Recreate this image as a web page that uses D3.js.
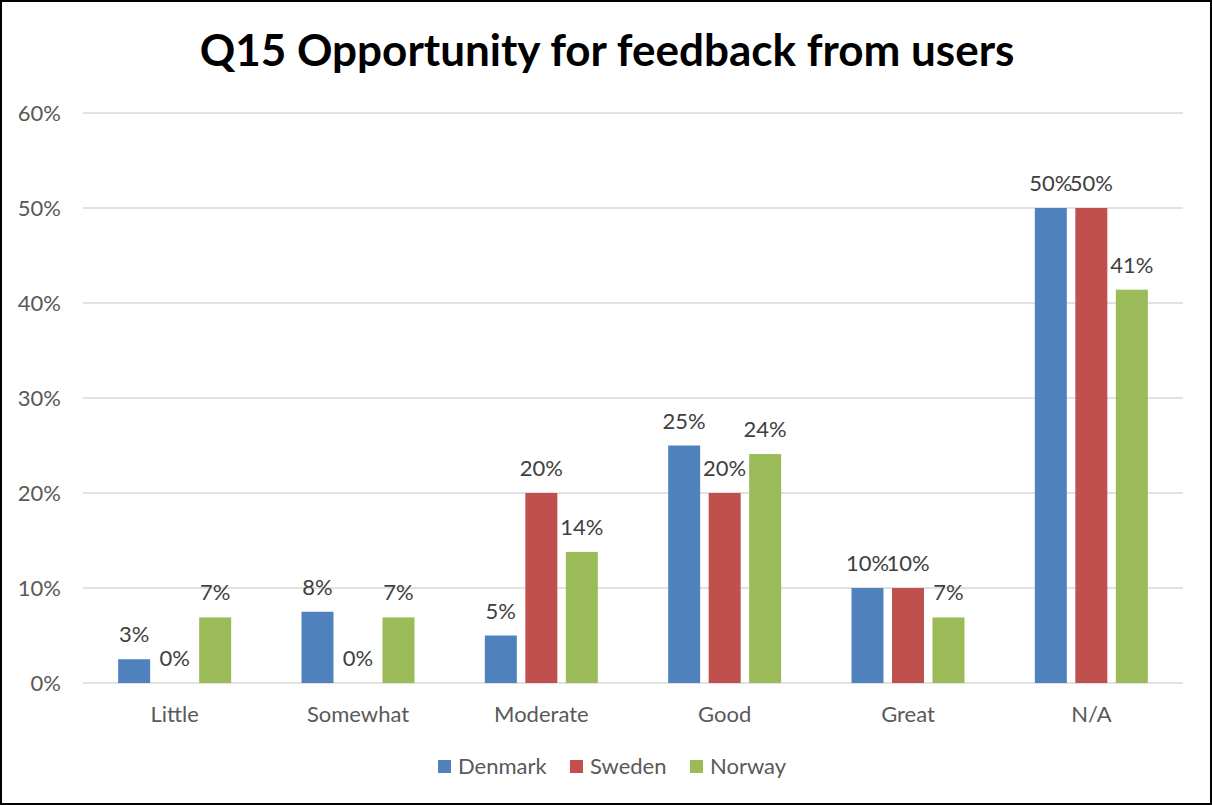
<!DOCTYPE html>
<html>
<head>
<meta charset="utf-8">
<script src="https://cdn.jsdelivr.net/npm/d3@7"></script>
<style>
  html, body { margin: 0; padding: 0; background: #fff; }
  svg { display: block; font-family: Lato, "Open Sans", sans-serif; }
</style>
</head>
<body>
<svg id="chart" width="1212" height="805"></svg>
<script>
// Survey responses per country, share of respondents
const categories = ["Little", "Somewhat", "Moderate", "Good", "Great", "N/A"];
const seriesNames = ["Denmark", "Sweden", "Norway"];
const denmark = [0.025, 0.075, 0.05, 0.25, 0.10, 0.50];
const sweden  = [0.00, 0.00, 0.20, 0.20, 0.10, 0.50];
const norway  = [0.069, 0.069, 0.138, 0.241, 0.069, 0.414];
const yTicks = [0, 0.1, 0.2, 0.3, 0.4, 0.5, 0.6];
const colors = ["#4f81bd", "#c0504d", "#9bbb59"];

const seriesValues = [denmark, sweden, norway];
const rows = categories.map((c, i) => ({
  category: c,
  values: seriesNames.map((s, j) => ({ series: s, value: seriesValues[j][i] }))
}));

const W = 1212, H = 805;
const margin = { left: 83, right: 29, top: 113, bottom: 122 };
const svg = d3.select("#chart");

// chart frame
svg.append("rect")
  .attr("x", 1).attr("y", 1).attr("width", W - 2).attr("height", H - 2)
  .attr("fill", "#fff").attr("stroke", "#000").attr("stroke-width", 2);

const x0 = d3.scaleBand().domain(categories)
  .range([margin.left, W - margin.right]).paddingInner(0).paddingOuter(0);
const groupWidth = 113;
const x1 = d3.scaleBand().domain(seriesNames)
  .range([0, groupWidth]).paddingInner(0.21).paddingOuter(0);
const y = d3.scaleLinear().domain([0, 0.6]).range([H - margin.bottom, margin.top]);

// gridlines
svg.append("g").selectAll("line").data(yTicks).join("line")
  .attr("x1", margin.left).attr("x2", W - margin.right)
  .attr("y1", d => y(d)).attr("y2", d => y(d))
  .attr("stroke", "#d9d9d9").attr("stroke-width", 1.3);

// y axis labels
const yAxis = d3.axisLeft(y).tickValues(yTicks).tickFormat(d3.format(".0%")).tickSize(0).tickPadding(22);
const yg = svg.append("g").attr("transform", `translate(${margin.left},0)`).call(yAxis);
yg.select(".domain").remove();
yg.selectAll("text").attr("font-size", 22).attr("fill", "#595959")
  .attr("font-family", "Lato, sans-serif");

// x axis labels
const xAxis = d3.axisBottom(x0).tickSize(0).tickPadding(23);
const xg = svg.append("g").attr("transform", `translate(0,${y(0)})`).call(xAxis);
xg.select(".domain").remove();
xg.selectAll("text").attr("font-size", 22).attr("fill", "#595959")
  .attr("font-family", "Lato, sans-serif");

// bars
const groupOffset = (x0.bandwidth() - groupWidth) / 2;
const groups = svg.append("g").selectAll("g").data(rows).join("g")
  .attr("transform", d => `translate(${x0(d.category) + groupOffset},0)`);

groups.selectAll("rect").data(d => d.values).join("rect")
  .attr("x", d => x1(d.series))
  .attr("width", x1.bandwidth())
  .attr("y", d => y(d.value))
  .attr("height", d => y(0) - y(d.value))
  .attr("fill", (d, i) => colors[i]);

// value labels
const fmt = d3.format(".0%");
groups.selectAll("text.val").data(d => d.values).join("text")
  .attr("class", "val")
  .attr("x", d => x1(d.series) + x1.bandwidth() / 2)
  .attr("y", d => y(d.value) - 17)
  .attr("text-anchor", "middle")
  .attr("font-size", 22).attr("fill", "#404040")
  .text(d => fmt(d.value));

// title
svg.append("text")
  .attr("x", W / 2 + 1).attr("y", 66)
  .attr("text-anchor", "middle")
  .attr("font-size", 44).attr("font-weight", "bold").attr("fill", "#000")
  .text("Q15 Opportunity for feedback from users");

// legend
const legendItems = [
  { name: "Denmark", x: 438 },
  { name: "Sweden", x: 570 },
  { name: "Norway", x: 690 }
];
const lg = svg.append("g").selectAll("g").data(legendItems).join("g")
  .attr("transform", d => `translate(${d.x},760)`);
lg.append("rect").attr("width", 13).attr("height", 13)
  .attr("fill", (d, i) => colors[i]);
lg.append("text").attr("x", 20).attr("y", 14)
  .attr("font-size", 22).attr("fill", "#595959")
  .text(d => d.name);
</script>
</body>
</html>
